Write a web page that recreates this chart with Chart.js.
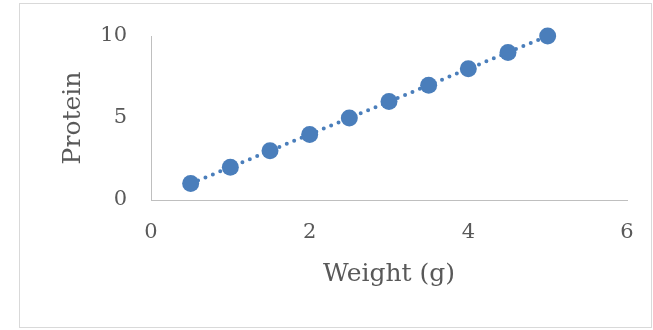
<!DOCTYPE html>
<html>
<head>
<meta charset="utf-8">
<script src="https://cdn.jsdelivr.net/npm/chart.js@4/dist/chart.umd.min.js"></script>
<style>
    body { margin: 0; background: #fff; }
    #box {
        position: absolute;
        left: 19px;
        top: 3px;
        width: 631px;
        height: 323px;
        border: 1px solid #d9d9d9;
    }
</style>
</head>
<body>
<div id="box"><canvas id="scatterChart" width="631" height="323"></canvas></div>
<script>
// weight (g) vs protein
const weights = [0.5, 1, 1.5, 2, 2.5, 3, 3.5, 4, 4.5, 5];
const protein = [1, 2, 3, 4, 5, 6, 7, 8, 9, 10];
const xTicks = [0, 2, 4, 6];
const yTicks = [0, 5, 10];

const blue = '#4a7ebb';
const textColor = '#595959';
const fontFamily = '"DejaVu Serif", Cambria, serif';

let points = weights.map((w, i) => ({ x: w, y: protein[i] }));

new Chart(document.getElementById('scatterChart'), {
    type: 'scatter',
    data: {
        datasets: [{
            label: 'Protein',
            data: points,
            showLine: true,
            clip: false,
            borderColor: blue,
            borderWidth: 4,
            borderDash: [0, 8],
            borderCapStyle: 'round',
            backgroundColor: blue,
            pointBackgroundColor: blue,
            pointBorderWidth: 0,
            pointRadius: 8.5
        }]
    },
    options: {
        responsive: false,
        animation: false,
        layout: {
            autoPadding: false,
            padding: { top: 32, right: 24, left: 0, bottom: 0 }
        },
        plugins: {
            legend: { display: false },
            tooltip: { enabled: false }
        },
        scales: {
            x: {
                type: 'linear',
                min: xTicks[0],
                max: xTicks[xTicks.length - 1],
                afterBuildTicks: (scale) => { scale.ticks = xTicks.map(v => ({ value: v })) },
                afterFit: (scale) => {
                    scale.height = 127
                    scale.paddingLeft = 0
                    scale.paddingRight = 0
                },
                grid: { display: false, drawTicks: false },
                border: { display: true, color: '#bfbfbf', width: 1 },
                ticks: {
                    padding: 20,
                    color: textColor,
                    font: { family: fontFamily, size: 21 }
                },
                title: {
                    display: true,
                    text: 'Weight (g)',
                    color: textColor,
                    font: { family: fontFamily, size: 25 },
                    padding: { top: 0, bottom: 38 }
                }
            },
            y: {
                type: 'linear',
                min: yTicks[0],
                max: yTicks[yTicks.length - 1],
                afterBuildTicks: (scale) => { scale.ticks = yTicks.map(v => ({ value: v })) },
                afterFit: (scale) => {
                    scale.width = 131
                    scale.paddingTop = 0
                    scale.paddingBottom = 0
                },
                grid: { display: false, drawTicks: false },
                border: { display: true, color: '#bfbfbf', width: 1 },
                ticks: {
                    padding: 24,
                    color: textColor,
                    font: { family: fontFamily, size: 21 }
                },
                title: {
                    display: true,
                    text: 'Protein',
                    color: textColor,
                    font: { family: fontFamily, size: 25 },
                    padding: { top: 38, bottom: 0 }
                }
            }
        }
    }
});
</script>
</body>
</html>
